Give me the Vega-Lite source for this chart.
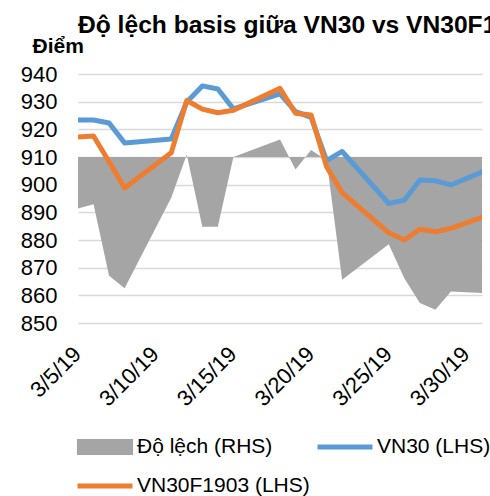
{
  "$schema": "https://vega.github.io/schema/vega-lite/v6.json",
  "autosize": {"type": "none"},
  "padding": {"left": 78, "top": 74, "right": 8, "bottom": 173},
  "width": 404,
  "height": 249,
  "background": "white",
  "title": {"text": "Độ lệch basis giữa VN30 vs VN30F1903", "anchor": "start", "frame": "group", "font": "Liberation Sans", "fontSize": 24.6, "fontWeight": "bold", "color": "#000000", "offset": -4},
  "config": {
    "view": {"stroke": null},
    "font": "Liberation Sans",
    "legend": {"labelFont": "Liberation Sans", "labelFontSize": 21, "labelColor": "#000000", "labelLimit": 0}
  },
  "data": {"values": [
    {"date": "2019-03-05", "series": "VN30 (LHS)", "value": 923.4},
    {"date": "2019-03-06", "series": "VN30 (LHS)", "value": 923.4},
    {"date": "2019-03-07", "series": "VN30 (LHS)", "value": 922.3},
    {"date": "2019-03-08", "series": "VN30 (LHS)", "value": 915.1},
    {"date": "2019-03-11", "series": "VN30 (LHS)", "value": 916.5},
    {"date": "2019-03-12", "series": "VN30 (LHS)", "value": 929.9},
    {"date": "2019-03-13", "series": "VN30 (LHS)", "value": 935.7},
    {"date": "2019-03-14", "series": "VN30 (LHS)", "value": 934.6},
    {"date": "2019-03-15", "series": "VN30 (LHS)", "value": 927.4},
    {"date": "2019-03-18", "series": "VN30 (LHS)", "value": 932.8},
    {"date": "2019-03-19", "series": "VN30 (LHS)", "value": 926.4},
    {"date": "2019-03-20", "series": "VN30 (LHS)", "value": 924.3},
    {"date": "2019-03-21", "series": "VN30 (LHS)", "value": 908.7},
    {"date": "2019-03-22", "series": "VN30 (LHS)", "value": 912.0},
    {"date": "2019-03-25", "series": "VN30 (LHS)", "value": 893.2},
    {"date": "2019-03-26", "series": "VN30 (LHS)", "value": 894.4},
    {"date": "2019-03-27", "series": "VN30 (LHS)", "value": 901.7},
    {"date": "2019-03-28", "series": "VN30 (LHS)", "value": 901.4},
    {"date": "2019-03-29", "series": "VN30 (LHS)", "value": 899.9},
    {"date": "2019-04-01", "series": "VN30 (LHS)", "value": 906.9},
    {"date": "2019-03-05", "series": "VN30F1903 (LHS)", "value": 917.2},
    {"date": "2019-03-06", "series": "VN30F1903 (LHS)", "value": 917.6},
    {"date": "2019-03-07", "series": "VN30F1903 (LHS)", "value": 908.3},
    {"date": "2019-03-08", "series": "VN30F1903 (LHS)", "value": 898.8},
    {"date": "2019-03-11", "series": "VN30F1903 (LHS)", "value": 911.5},
    {"date": "2019-03-12", "series": "VN30F1903 (LHS)", "value": 930.4},
    {"date": "2019-03-13", "series": "VN30F1903 (LHS)", "value": 927.3},
    {"date": "2019-03-14", "series": "VN30F1903 (LHS)", "value": 926.0},
    {"date": "2019-03-15", "series": "VN30F1903 (LHS)", "value": 926.9},
    {"date": "2019-03-18", "series": "VN30F1903 (LHS)", "value": 934.8},
    {"date": "2019-03-19", "series": "VN30F1903 (LHS)", "value": 925.8},
    {"date": "2019-03-20", "series": "VN30F1903 (LHS)", "value": 925.2},
    {"date": "2019-03-21", "series": "VN30F1903 (LHS)", "value": 906.5},
    {"date": "2019-03-22", "series": "VN30F1903 (LHS)", "value": 897.1},
    {"date": "2019-03-25", "series": "VN30F1903 (LHS)", "value": 882.6},
    {"date": "2019-03-26", "series": "VN30F1903 (LHS)", "value": 880.0},
    {"date": "2019-03-27", "series": "VN30F1903 (LHS)", "value": 883.9},
    {"date": "2019-03-28", "series": "VN30F1903 (LHS)", "value": 883.0},
    {"date": "2019-03-29", "series": "VN30F1903 (LHS)", "value": 884.2},
    {"date": "2019-04-01", "series": "VN30F1903 (LHS)", "value": 890.2},
    {"date": "2019-03-05", "series": "Độ lệch (RHS)", "value": -6.2},
    {"date": "2019-03-06", "series": "Độ lệch (RHS)", "value": -5.7},
    {"date": "2019-03-07", "series": "Độ lệch (RHS)", "value": -14.3},
    {"date": "2019-03-08", "series": "Độ lệch (RHS)", "value": -15.8},
    {"date": "2019-03-11", "series": "Độ lệch (RHS)", "value": -4.9},
    {"date": "2019-03-12", "series": "Độ lệch (RHS)", "value": 0.3},
    {"date": "2019-03-13", "series": "Độ lệch (RHS)", "value": -8.4},
    {"date": "2019-03-14", "series": "Độ lệch (RHS)", "value": -8.4},
    {"date": "2019-03-15", "series": "Độ lệch (RHS)", "value": 0.0},
    {"date": "2019-03-18", "series": "Độ lệch (RHS)", "value": 2.1},
    {"date": "2019-03-19", "series": "Độ lệch (RHS)", "value": -1.5},
    {"date": "2019-03-20", "series": "Độ lệch (RHS)", "value": 0.85},
    {"date": "2019-03-21", "series": "Độ lệch (RHS)", "value": -0.4},
    {"date": "2019-03-22", "series": "Độ lệch (RHS)", "value": -14.8},
    {"date": "2019-03-25", "series": "Độ lệch (RHS)", "value": -10.5},
    {"date": "2019-03-26", "series": "Độ lệch (RHS)", "value": -14.6},
    {"date": "2019-03-27", "series": "Độ lệch (RHS)", "value": -17.6},
    {"date": "2019-03-28", "series": "Độ lệch (RHS)", "value": -18.4},
    {"date": "2019-03-29", "series": "Độ lệch (RHS)", "value": -16.2},
    {"date": "2019-04-01", "series": "Độ lệch (RHS)", "value": -16.5}
  ]},
  "encoding": {
    "x": {
      "field": "date", "type": "temporal",
      "scale": {"type": "utc", "domain": [{"year": 2019, "month": 3, "date": 5, "utc": true}, {"year": 2019, "month": 3, "date": 31, "utc": true}]},
      "axis": {
        "title": null, "format": "%-m/%-d/%y", "labelAngle": -45, "labelFont": "Liberation Sans", "labelFontSize": 22, "labelColor": "#000000",
        "labelPadding": 20, "labelOffset": -8, "ticks": false, "domain": false, "grid": false, "labelOverlap": false, "labelFlush": false,
        "values": [
          {"year": 2019, "month": 3, "date": 5, "utc": true},
          {"year": 2019, "month": 3, "date": 10, "utc": true},
          {"year": 2019, "month": 3, "date": 15, "utc": true},
          {"year": 2019, "month": 3, "date": 20, "utc": true},
          {"year": 2019, "month": 3, "date": 25, "utc": true},
          {"year": 2019, "month": 3, "date": 30, "utc": true}
        ]
      }
    },
    "color": {
      "field": "series", "type": "nominal",
      "scale": {"domain": ["Độ lệch (RHS)", "VN30 (LHS)", "VN30F1903 (LHS)"], "range": ["#a5a5a5", "#5b9bd5", "#ed7d31"]},
      "legend": {
        "title": null, "orient": "none", "legendX": -3, "legendY": 357, "direction": "horizontal", "columns": 2,
        "symbolType": {"expr": "datum.value === 'Độ lệch (RHS)' ? 'M-0.93,-0.2H0.93V0.2H-0.93Z' : 'stroke'"},
        "symbolSize": 3025,
        "symbolStrokeWidth": 5,
        "symbolStrokeColor": {"expr": "datum.value === 'Độ lệch (RHS)' ? 'transparent' : scale('color', datum.value)"},
        "symbolFillColor": {"expr": "datum.value === 'Độ lệch (RHS)' ? scale('color', datum.value) : 'transparent'"},
        "clipHeight": 32,
        "labelOffset": 2, "columnPadding": 5, "rowPadding": 7
      }
    }
  },
  "layer": [
    {
      "transform": [{"filter": "datum.series === 'Độ lệch (RHS)'"}],
      "mark": {"type": "area", "clip": true, "opacity": 1},
      "encoding": {
        "y": {"field": "value", "type": "quantitative", "scale": {"domain": [-20, 10], "nice": false, "zero": true}, "axis": null}
      }
    },
    {
      "transform": [{"filter": "datum.series !== 'Độ lệch (RHS)'"}],
      "mark": {"type": "line", "clip": true, "strokeWidth": 5, "strokeJoin": "round", "strokeCap": "butt"},
      "encoding": {
        "y": {
          "field": "value", "type": "quantitative",
          "scale": {"domain": [850, 940], "nice": false, "zero": false},
          "axis": {
            "orient": "left", "values": [850, 860, 870, 880, 890, 900, 910, 920, 930, 940],
            "title": "Điểm", "titleAngle": 0, "titleAlign": "left", "titleBaseline": "alphabetic", "titleX": -46, "titleY": -22,
            "titleFont": "Liberation Sans", "titleFontSize": 21, "titleFontWeight": "bold", "titleColor": "#000000",
            "labelFont": "Liberation Sans", "labelFontSize": 22, "labelColor": "#000000", "labelPadding": 21,
            "ticks": false, "domain": false, "grid": true, "gridColor": "#d9d9d9", "gridWidth": 1.5
          }
        }
      }
    }
  ],
  "resolve": {"scale": {"y": "independent"}}
}
